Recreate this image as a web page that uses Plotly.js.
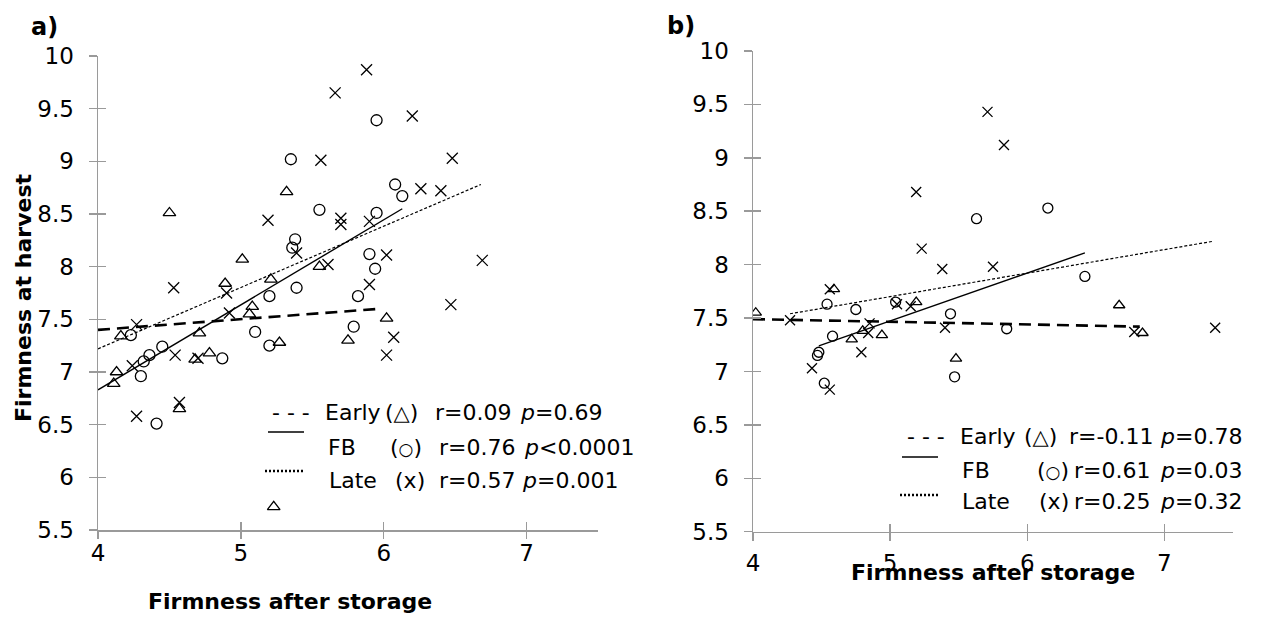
<!DOCTYPE html>
<html>
<head>
<meta charset="utf-8">
<script src="https://cdn.plot.ly/plotly-3.0.1.min.js"></script>
<style>
  html, body { margin: 0; padding: 0; background: #fff; }
  #chart { width: 1282px; height: 617px; }
</style>
</head>
<body>
<div id="chart"></div>
<script>
// ---- Panel a: firmness after storage (x) vs firmness at harvest (y) ----
const aEarlyX = [4.13, 4.11, 4.16, 4.50, 4.57, 4.68, 4.71, 4.78, 4.89, 5.01, 5.06, 5.08, 5.21, 5.23, 5.27, 5.32, 5.55, 5.75, 6.02];
const aEarlyY = [7.00, 6.89, 7.34, 8.51, 6.65, 7.12, 7.37, 7.18, 7.84, 8.07, 7.55, 7.62, 7.88, 5.72, 7.28, 8.71, 8.00, 7.30, 7.51];

const aFBX = [5.35, 5.55, 5.38, 5.36, 5.20, 5.39, 5.10, 5.20, 4.87, 4.45, 4.36, 4.32, 4.30, 4.23, 4.41, 5.79, 5.82, 5.95, 6.08, 6.13, 5.95, 5.90, 5.94];
const aFBY = [9.02, 8.54, 8.26, 8.18, 7.72, 7.80, 7.38, 7.25, 7.13, 7.24, 7.16, 7.10, 6.96, 7.35, 6.51, 7.43, 7.72, 9.39, 8.78, 8.67, 8.51, 8.12, 7.98];

const aLateX = [5.66, 5.56, 5.19, 5.70, 5.70, 5.39, 5.61, 4.53, 4.90, 4.92, 4.27, 4.54, 4.24, 4.70, 4.27, 4.57, 5.88, 6.20, 6.48, 6.26, 6.40, 5.90, 6.02, 6.69, 5.90, 6.47, 6.07, 6.02];
const aLateY = [9.65, 9.01, 8.44, 8.46, 8.40, 8.13, 8.02, 7.80, 7.75, 7.56, 7.45, 7.16, 7.06, 7.13, 6.58, 6.71, 9.87, 9.43, 9.03, 8.74, 8.72, 8.43, 8.11, 8.06, 7.83, 7.64, 7.33, 7.16];

// fitted regression lines (end points)
const aEarlyFitX = [4.00, 5.97], aEarlyFitY = [7.40, 7.60];
const aFBFitX    = [4.00, 6.13], aFBFitY    = [6.83, 8.55];
const aLateFitX  = [4.00, 6.68], aLateFitY  = [7.22, 8.78];

// ---- Panel b ----
const bEarlyX = [4.02, 4.59, 4.72, 4.80, 4.94, 5.19, 5.48, 6.67, 6.84];
const bEarlyY = [7.55, 7.77, 7.30, 7.38, 7.34, 7.65, 7.12, 7.62, 7.36];

const bFBX = [4.54, 4.75, 4.58, 4.48, 4.47, 4.52, 5.04, 5.44, 5.47, 5.63, 6.15, 6.42, 5.85];
const bFBY = [7.63, 7.58, 7.33, 7.18, 7.15, 6.89, 7.65, 7.54, 6.95, 8.43, 8.53, 7.89, 7.40];

const bLateX = [4.27, 4.43, 4.56, 4.79, 4.84, 4.85, 5.05, 5.15, 5.40, 5.19, 5.23, 5.38, 5.71, 5.75, 5.83, 6.78, 7.37, 4.56];
const bLateY = [7.48, 7.03, 6.83, 7.18, 7.36, 7.45, 7.63, 7.61, 7.41, 8.68, 8.15, 7.96, 9.43, 7.98, 9.12, 7.37, 7.41, 7.77];

const bEarlyFitX = [4.00, 6.82], bEarlyFitY = [7.49, 7.42];
const bFBFitX    = [4.48, 6.42], bFBFitY    = [7.24, 8.11];
const bLateFitX  = [4.27, 7.36], bLateFitY  = [7.54, 8.22];

// legend statistics
const groups   = ['Early', 'FB', 'Late'];
const symbols  = ['△', '○', 'x'];
const aStatsR  = ['r=0.09', 'r=0.76', 'r=0.57'];
const aStatsP  = ['<i>p</i>=0.69', '<i>p</i>&lt;0.0001', '<i>p</i>=0.001'];
const bStatsR  = ['r=-0.11', 'r=0.61', 'r=0.25'];
const bStatsP  = ['<i>p</i>=0.78', '<i>p</i>=0.03', '<i>p</i>=0.32'];

// ---- helpers: pixel positions -> paper fractions ----
const W = 1282, H = 617;
const px = v => v / W;
const py = v => 1 - v / H;

const FONT = 'DejaVu Sans, Arial, sans-serif';
const AXIS_GREY = '#9a9a9a';
const INK = '#000';
const LEGEND_SIZE = 22;

function markers(x, y, symbol, size, xa, ya) {
  return {
    type: 'scatter', mode: 'markers', x: x, y: y, xaxis: xa, yaxis: ya,
    showlegend: false, hoverinfo: 'x+y',
    marker: { symbol: symbol, size: size, color: INK, line: { color: INK, width: 1.3 } }
  };
}
function fit(x, y, dash, width, xa, ya) {
  return {
    type: 'scatter', mode: 'lines', x: x, y: y, xaxis: xa, yaxis: ya,
    showlegend: false, hoverinfo: 'skip',
    line: { color: INK, width: width, dash: dash }
  };
}
function ghost(xa, ya) {
  return { type: 'scatter', mode: 'markers', x: [], y: [], xaxis: xa, yaxis: ya, showlegend: false, hoverinfo: 'skip' };
}

const traces = [
  markers(aEarlyX, aEarlyY, 'triangle-up-open', 11, 'x', 'y'),
  markers(aFBX, aFBY, 'circle-open', 11, 'x', 'y'),
  markers(aLateX, aLateY, 'x-thin-open', 11, 'x', 'y'),
  fit(aEarlyFitX, aEarlyFitY, '12px,7px', 2.6, 'x', 'y'),
  fit(aFBFitX, aFBFitY, 'solid', 1.4, 'x', 'y'),
  fit(aLateFitX, aLateFitY, '3px,2px', 1.2, 'x', 'y'),

  markers(bEarlyX, bEarlyY, 'triangle-up-open', 10, 'x2', 'y2'),
  markers(bFBX, bFBY, 'circle-open', 10, 'x2', 'y2'),
  markers(bLateX, bLateY, 'x-thin-open', 10, 'x2', 'y2'),
  fit(bEarlyFitX, bEarlyFitY, '12px,7px', 2.6, 'x2', 'y2'),
  fit(bFBFitX, bFBFitY, 'solid', 1.4, 'x2', 'y2'),
  fit(bLateFitX, bLateFitY, '3px,2px', 1.2, 'x2', 'y2'),

  ghost('x3', 'y3'),
  ghost('x4', 'y4')
];

// base x axes carry the line and labels; tickDir chooses which half of
// the crossing tick they draw, the overlay axis draws the other half
function baseX(domain, anchor, tickDir, standoff) {
  return {
    domain: domain, anchor: anchor, range: [4, 7.5], tick0: 4, dtick: 1,
    showline: true, linecolor: AXIS_GREY, linewidth: 1.5,
    ticks: tickDir, ticklen: 8, tickwidth: 1.5, tickcolor: AXIS_GREY,
    showgrid: false, zeroline: false, fixedrange: true,
    tickfont: { family: FONT, size: 23, color: INK }, ticklabelstandoff: standoff
  };
}
function baseY(domain, anchor) {
  return {
    domain: domain, anchor: anchor, range: [5.5, 10], tick0: 5.5, dtick: 0.5,
    showline: true, linecolor: AXIS_GREY, linewidth: 1.5,
    ticks: 'outside', ticklen: 8, tickwidth: 1.5, tickcolor: AXIS_GREY,
    showgrid: false, zeroline: false, fixedrange: true,
    tickfont: { family: FONT, size: 23, color: INK }, ticklabelstandoff: 10
  };
}
function innerX(over, anchor, tickDir) {
  return {
    overlaying: over, anchor: anchor, range: [4, 7.5], tick0: 4, dtick: 1,
    ticks: tickDir, ticklen: 8, tickwidth: 1.5, tickcolor: AXIS_GREY,
    showticklabels: false, showline: false, showgrid: false, zeroline: false, fixedrange: true
  };
}
function innerY(over, anchor) {
  return {
    overlaying: over, anchor: anchor, range: [5.5, 10], tick0: 5.5, dtick: 0.5,
    ticks: 'inside', ticklen: 8, tickwidth: 1.5, tickcolor: AXIS_GREY,
    showticklabels: false, showline: false, showgrid: false, zeroline: false, fixedrange: true
  };
}

function txt(text, x, y, opts) {
  return Object.assign({
    text: text, xref: 'paper', yref: 'paper', x: px(x), y: py(y),
    showarrow: false, xanchor: 'left', yanchor: 'middle',
    font: { family: FONT, size: LEGEND_SIZE, color: INK }
  }, opts || {});
}

const symSize = ['21px', '17px', LEGEND_SIZE + 'px'];
function legendRows(rowsY, cols, statsR, statsP) {
  const out = [];
  out.push(txt('- - -', cols.dash, rowsY[0]));
  for (let i = 0; i < groups.length; i++) {
    out.push(txt(groups[i], cols.name[i], rowsY[i]));
    out.push(txt('(<span style="font-size:' + symSize[i] + '">' + symbols[i] + '</span>)', cols.sym[i], rowsY[i]));
    out.push(txt(statsR[i], cols.r[i], rowsY[i]));
    out.push(txt(statsP[i], cols.p[i], rowsY[i]));
  }
  return out;
}

const annotations = [].concat(
  [
    txt('<b>a)</b>', 44, 27, { xanchor: 'center', font: { family: FONT, size: 24, color: INK } }),
    txt('<b>b)</b>', 681, 26, { xanchor: 'center', font: { family: FONT, size: 24, color: INK } }),
    txt('<b>Firmness at harvest</b>', 24, 298, { xanchor: 'center', textangle: -90, font: { family: FONT, size: 22, color: INK } }),
    txt('<b>Firmness after storage</b>', 290, 601, { xanchor: 'center', font: { family: FONT, size: 22, color: INK } }),
    txt('<b>Firmness after storage</b>', 993, 572, { xanchor: 'center', font: { family: FONT, size: 22, color: INK } })
  ],
  legendRows([412, 447, 480],
    { dash: 270, name: [323, 326, 327], sym: [383, 388, 393], r: [433, 437, 437], p: [518, 522, 520] },
    aStatsR, aStatsP),
  legendRows([436, 470, 501],
    { dash: 905, name: [958, 960, 960], sym: [1022, 1035, 1037], r: [1067, 1072, 1072], p: [1158, 1158, 1158] },
    bStatsR, bStatsP)
);

function sample(x0, x1, y, dash, width) {
  return {
    type: 'line', xref: 'paper', yref: 'paper',
    x0: px(x0), x1: px(x1), y0: py(y), y1: py(y),
    line: { color: INK, width: width, dash: dash }
  };
}
const shapes = [
  sample(268, 304, 432, 'solid', 1.4),
  sample(265, 305, 471, '2px,2px', 2.5),
  sample(902, 938, 457, 'solid', 1.4),
  sample(900, 940, 495, '2px,2px', 2.5)
];

const layout = {
  width: W, height: H,
  margin: { l: 0, r: 0, t: 0, b: 0, pad: 0 },
  paper_bgcolor: '#fff', plot_bgcolor: 'rgba(0,0,0,0)',
  showlegend: false,
  font: { family: FONT, color: INK },
  xaxis:  baseX([px(98), px(598)], 'y', 'inside', 2),
  yaxis:  baseY([py(530), py(56)], 'x'),
  xaxis2: baseX([px(753), px(1233)], 'y2', 'outside', 2),
  yaxis2: baseY([py(531.7), py(51)], 'x2'),
  xaxis3: innerX('x', 'y', 'outside'),
  yaxis3: innerY('y', 'x'),
  xaxis4: innerX('x2', 'y2', 'inside'),
  yaxis4: innerY('y2', 'x2'),
  annotations: annotations,
  shapes: shapes
};

Plotly.newPlot('chart', traces, layout, { staticPlot: true, displayModeBar: false });
</script>
</body>
</html>
